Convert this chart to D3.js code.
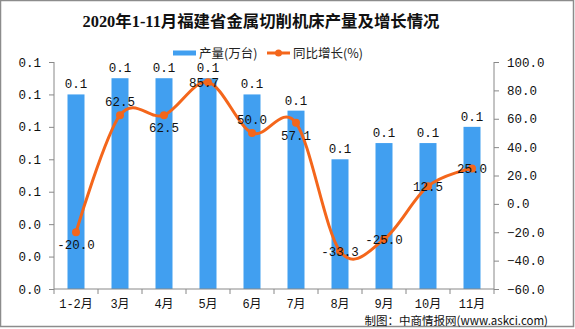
<!DOCTYPE html>
<html><head><meta charset="utf-8">
<script src="https://cdn.jsdelivr.net/npm/d3@7/dist/d3.min.js"></script>
<style>
html,body{margin:0;padding:0;background:#fff;}
svg{display:block;}
</style></head>
<body>
<svg id="c" width="575" height="329"></svg>
<script>
const categories = ["1-2月","3月","4月","5月","6月","7月","8月","9月","10月","11月"];
const output = [0.12,0.13,0.13,0.13,0.12,0.11,0.08,0.09,0.09,0.10];
const outputLabels = ["0.1","0.1","0.1","0.1","0.1","0.1","0.1","0.1","0.1","0.1"];
const growth = [-20.0,62.5,62.5,85.7,50.0,57.1,-33.3,-25.0,12.5,25.0];
const leftTicks = [0,0.02,0.04,0.06,0.08,0.10,0.12,0.14];
const rightTicks = [-60,-40,-20,0,20,40,60,80,100];
const title = "2020年1-11月福建省金属切削机床产量及增长情况";
const seriesNames = ["产量(万台)","同比增长(%)"];
const source = "制图：中商情报网(www.askci.com)";

const svg = d3.select("#c");
const numFont = "'Liberation Mono','DejaVu Sans Mono','Noto Sans CJK SC',monospace";
const cjkFont = "'Noto Sans CJK SC','Liberation Sans',sans-serif";
const blue = "#419FF0", orange = "#F4661B", axisCol = "#888";

svg.append("rect").attr("x",0.5).attr("y",0.5).attr("width",573).attr("height",326)
  .attr("fill","#fff").attr("stroke","#8c8c8c").attr("stroke-width",1.5);

const L=54, R=494, T=62, B=289;
const x = d3.scaleBand().domain(categories).range([L,R]).paddingInner(0).paddingOuter(0);
const yL = d3.scaleLinear().domain([0,0.14]).range([B,T]);
const yR = d3.scaleLinear().domain([-60,100]).range([B,T]);

// title
svg.append("text").attr("x",261).attr("y",27).attr("text-anchor","middle")
  .attr("font-family","'Liberation Serif','Noto Sans CJK SC',serif").attr("font-weight","bold")
  .attr("font-size",16.4).attr("fill","#111").text(title);

// legend
const lg = svg.append("g").attr("font-family",cjkFont).attr("font-size",12.5).attr("fill","#222");
lg.append("rect").attr("x",173).attr("y",50.5).attr("width",23).attr("height",5).attr("fill",blue);
lg.append("text").attr("x",199).attr("y",57.5).text(seriesNames[0]);
lg.append("line").attr("x1",267).attr("x2",290).attr("y1",53).attr("y2",53).attr("stroke",orange).attr("stroke-width",3);
lg.append("circle").attr("cx",278.5).attr("cy",53).attr("r",3.5).attr("fill",orange);
lg.append("text").attr("x",293).attr("y",57.5).text(seriesNames[1]);

// bars
const bw = 17;
svg.append("g").selectAll("rect").data(output).join("rect")
  .attr("x",(d,i)=>x(categories[i])+x.bandwidth()/2-bw/2)
  .attr("width",bw)
  .attr("y",d=>yL(d)).attr("height",d=>B-yL(d)).attr("fill",blue);

// axes
const axL = d3.axisLeft(yL).tickValues(leftTicks).tickSize(5).tickPadding(8).tickFormat(d3.format(".1f"));
const axR = d3.axisRight(yR).tickValues(rightTicks).tickSize(5).tickPadding(8).tickFormat(d3.format(".1f"));
const gL = svg.append("g").attr("transform",`translate(${L},0)`).call(axL);
const gR = svg.append("g").attr("transform",`translate(${R},0)`).call(axR);
[gL,gR].forEach(g=>{
  g.select(".domain").attr("stroke",axisCol).attr("d", `M0,${T}V${B}`);
  g.selectAll(".tick line").attr("stroke",axisCol);
  g.selectAll("text").attr("font-family",numFont).attr("font-size",12.5).attr("fill","#111");
});

// x axis
const gx = svg.append("g").attr("transform",`translate(0,${B})`);
gx.append("line").attr("x1",L).attr("x2",R).attr("stroke",axisCol);
const bounds = categories.map(c=>x(c)).concat([R]);
gx.selectAll("line.t").data(bounds).join("line").attr("class","t")
  .attr("x1",d=>d).attr("x2",d=>d).attr("y1",0).attr("y2",5).attr("stroke",axisCol);
gx.selectAll("text").data(categories).join("text")
  .attr("x",d=>x(d)+x.bandwidth()/2).attr("y",19).attr("text-anchor","middle")
  .attr("font-family",numFont).attr("font-size",12).attr("fill","#111").text(d=>d);

// bar labels
svg.append("g").selectAll("text").data(output).join("text")
  .attr("x",(d,i)=>x(categories[i])+x.bandwidth()/2).attr("y",d=>yL(d)-6)
  .attr("text-anchor","middle").attr("font-family",numFont).attr("font-size",12.5).attr("fill","#111")
  .text((d,i)=>outputLabels[i]);

// line
const cx = i=>x(categories[i])+x.bandwidth()/2;
const line = d3.line().x((d,i)=>cx(i)).y(d=>yR(d)).curve(d3.curveCardinal.tension(0));
svg.append("path").datum(growth).attr("d",line).attr("fill","none").attr("stroke",orange).attr("stroke-width",3);
svg.append("g").selectAll("circle").data(growth).join("circle")
  .attr("cx",(d,i)=>cx(i)).attr("cy",d=>yR(d)).attr("r",4).attr("fill",orange);

// line labels: vertical placement per point (style)
const place = ["below","above","below","center","above","below","center","center","center","center"];
const dy = {above:-9, below:17, center:4.5};
svg.append("g").selectAll("text").data(growth).join("text")
  .attr("x",(d,i)=>cx(i)-(i===3?4:0)).attr("y",(d,i)=>yR(d)+dy[place[i]])
  .attr("text-anchor","middle").attr("font-family",numFont).attr("font-size",12.5).attr("fill","#111")
  .text(d=>d.toFixed(1));

// source
svg.append("text").attr("x",548).attr("y",325).attr("text-anchor","end")
  .attr("font-family",cjkFont).attr("font-size",11.5).attr("fill","#111").text(source);
</script>
</body></html>
